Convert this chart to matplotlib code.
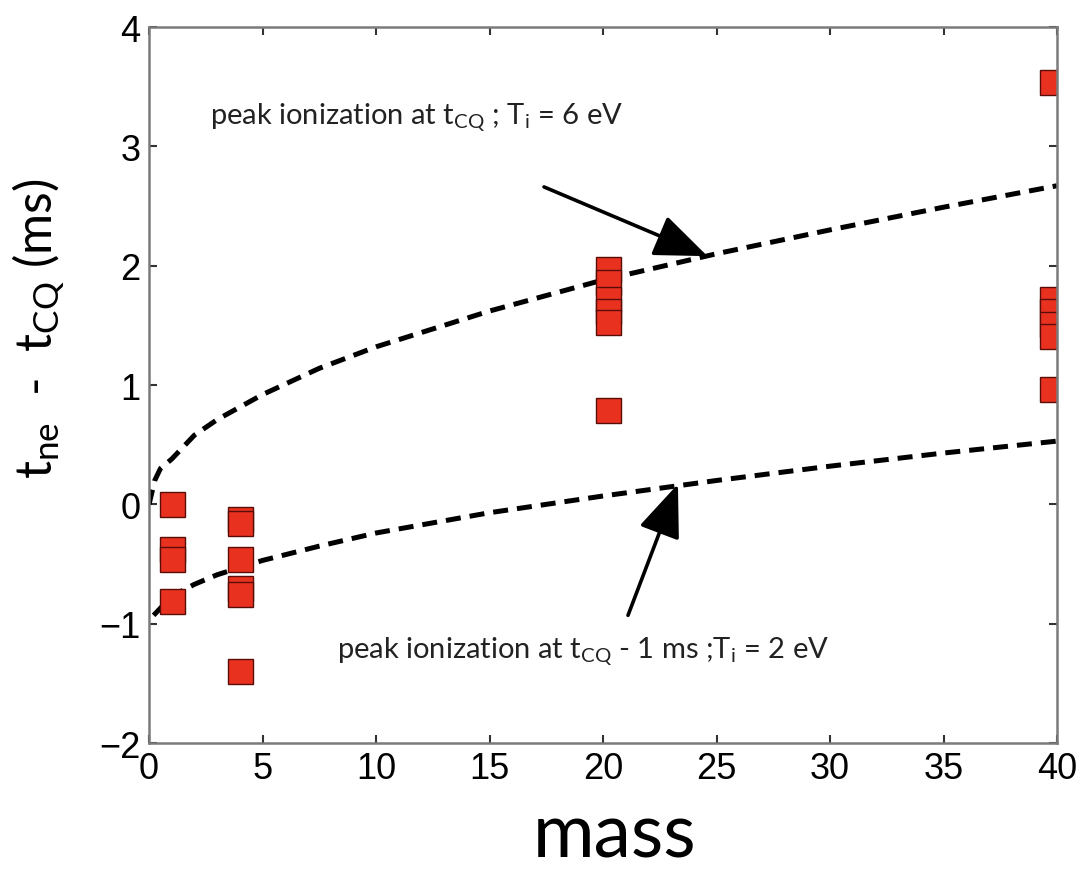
import matplotlib
matplotlib.use("Agg")
import matplotlib.pyplot as plt
from matplotlib import font_manager

# measured delay vs. species mass
mass_pts = [1.0, 1.0, 1.0, 1.0,
            4.0, 4.0, 4.0, 4.0, 4.0, 4.0,
            20.2, 20.2, 20.2, 20.2, 20.2, 20.2,
            39.8, 39.8, 39.8, 39.8, 39.8, 39.8]
delay_pts = [0.0, -0.37, -0.46, -0.81,
             -0.12, -0.16, -0.46, -0.70, -0.75, -1.40,
             1.97, 1.86, 1.72, 1.62, 1.53, 0.79,
             3.54, 1.72, 1.62, 1.51, 1.41, 0.97]

# model curves (read at selected masses)
mass_hi = [0.0, 0.25, 0.5, 1, 2, 3, 5, 7.5, 10, 15, 20, 25, 30, 35, 40]
delay_hi = [0.0, 0.2, 0.3, 0.38, 0.58, 0.71, 0.92, 1.14, 1.32, 1.62, 1.88, 2.1, 2.3, 2.49, 2.67]

mass_lo = [0.2, 1, 2, 3, 5, 7.5, 10, 15, 20, 25, 30, 35, 40]
delay_lo = [-0.93, -0.77, -0.67, -0.59, -0.47, -0.35, -0.24, -0.07, 0.07, 0.2, 0.32, 0.43, 0.53]

# narrow face for annotations if present
names = {f.name for f in font_manager.fontManager.ttflist}
ann_font = 'Liberation Sans Narrow' if 'Liberation Sans Narrow' in names else 'Lato'
ann_size = 23 if ann_font == 'Liberation Sans Narrow' else 21

plt.rcParams['mathtext.fontset'] = 'custom'
plt.rcParams['mathtext.rm'] = ann_font
plt.rcParams['mathtext.it'] = ann_font

fig = plt.figure(figsize=(10.88, 8.7), dpi=100)
ax = fig.add_axes([0.137, 0.1448, 0.8345, 0.823])

dash = dict(color='black', linewidth=3.6, dashes=(3.0, 1.8), dash_capstyle='butt')
ax.plot(mass_hi, delay_hi, **dash)
ax.plot(mass_lo, delay_lo, **dash)

ax.plot(mass_pts, delay_pts, 's', markersize=18, markerfacecolor='#e8321f',
        markeredgecolor='#5a0c06', markeredgewidth=1.0, linestyle='none')

txt = dict(fontsize=ann_size, family=ann_font, color='#222222')
ax.text(2.7, 3.19, r'peak ionization at t$_{\mathrm{CQ}}$ ; T$_{\mathrm{i}}$ = 6 eV',
        ha='left', va='baseline', **txt)
ax.text(8.3, -1.28, r'peak ionization at t$_{\mathrm{CQ}}$ - 1 ms ;T$_{\mathrm{i}}$ = 2 eV',
        ha='left', va='baseline', **txt)

arrow = dict(arrowstyle='-|>,head_length=1.5,head_width=0.6', color='black',
             linewidth=2.6, mutation_scale=22, shrinkA=0, shrinkB=0)
ax.annotate('', xy=(24.6, 2.08), xytext=(17.4, 2.66), arrowprops=arrow)
ax.annotate('', xy=(23.3, 0.17), xytext=(21.1, -0.93), arrowprops=arrow)

ax.set_xlim(0, 40)
ax.set_ylim(-2, 4)
ax.set_xticks(range(0, 41, 5))
ax.set_yticks(range(-2, 5))

for s in ax.spines.values():
    s.set_color('#7a7a7a')
    s.set_linewidth(1.8)
ax.tick_params(direction='in', length=6, width=1.5, color='#333333',
               top=True, right=True, labelsize=26, pad=6)
for lab in ax.get_xticklabels() + ax.get_yticklabels():
    lab.set_family('Liberation Sans')

ax.set_xlabel('mass', fontsize=54, family='Lato')
ax.xaxis.set_label_coords(0.513, -0.08)
ax.set_ylabel(r't$_{\mathrm{ne}}$  -  t$_{\mathrm{CQ}}$ (ms)', fontsize=36, family=ann_font)
ax.yaxis.set_label_coords(-0.09, 0.58)

fig.savefig('out.png', dpi=100)
